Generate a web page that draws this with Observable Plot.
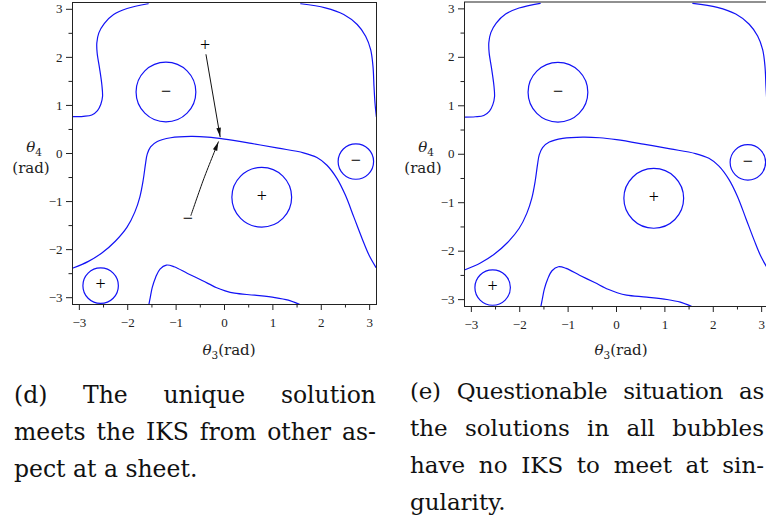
<!DOCTYPE html>
<html><head><meta charset="utf-8">
<script src="https://cdn.jsdelivr.net/npm/d3@7"></script>
<script src="https://cdn.jsdelivr.net/npm/@observablehq/plot@0.6"></script>
<style>
html,body{margin:0;padding:0;background:#fff;overflow:hidden;}
#root{position:relative;width:766px;height:523px;overflow:hidden;background:#fff;}
.panel{position:absolute;top:0;}
.lbl{position:absolute;font-family:"DejaVu Serif";font-size:15px;line-height:15px;color:#222;white-space:nowrap;text-align:center;width:80px;}
.lbl i{font-style:italic;}
.lbl sub{font-size:10.5px;vertical-align:-4px;line-height:0;}
.cap{position:absolute;font-family:"DejaVu Serif";font-size:23.5px;line-height:37px;color:#111;}
.cap div{white-space:nowrap;text-align:justify;text-align-last:justify;}
.cap div.last{text-align-last:left;}
</style></head><body><div id="root"></div>
<script>
// ---- data ----
const majorTicks = [-3, -2, -1, 0, 1, 2, 3];
const minorTicks = [-2.5, -1.5, -0.5, 0.5, 1.5, 2.5];

// singular curves (theta3, theta4)
const curveA_x = [-3.14, -2.917, -2.743, -2.625, -2.556, -2.521, -2.535, -2.583, -2.632, -2.639, -2.597, -2.486, -2.292, -2.014, -1.576];
const curveA_y = [0.767, 0.774, 0.801, 0.892, 1.024, 1.185, 1.429, 1.777, 2.091, 2.300, 2.509, 2.704, 2.892, 3.017, 3.115];
const curveB_x = [1.576, 2.083, 2.465, 2.743, 2.917, 3.021, 3.069, 3.090, 3.111, 3.139];
const curveB_y = [3.115, 3.031, 2.892, 2.683, 2.439, 2.160, 1.812, 1.394, 1.045, 0.767];
const curveC_x = [-3.13, -2.813, -2.535, -2.257, -2.014, -1.854, -1.750, -1.681, -1.632, -1.597, -1.528, -1.389, -1.111, -0.694, -0.347, 0, 0.556, 1.111, 1.632, 1.910, 2.118, 2.326, 2.500, 2.674, 2.847, 2.986, 3.13];
const curveC_y = [-2.383, -2.244, -2.070, -1.826, -1.533, -1.220, -0.906, -0.557, -0.209, -0.014, 0.139, 0.251, 0.328, 0.355, 0.341, 0.300, 0.209, 0.111, 0.014, -0.084, -0.244, -0.523, -0.871, -1.324, -1.777, -2.111, -2.369];
const curveD_x = [-1.5625, -1.535, -1.493, -1.424, -1.333, -1.201, -1.042, -0.764, -0.451, -0.174, 0.014, 0.208, 0.625, 1.042, 1.319, 1.549];
const curveD_y = [-3.14, -2.997, -2.787, -2.578, -2.404, -2.321, -2.355, -2.495, -2.648, -2.787, -2.857, -2.906, -2.948, -2.997, -3.052, -3.14];

// bubbles
const bubbleX = [-1.21, 2.715, 0.77, -2.56];
const bubbleY = [1.28, -0.167, -0.91, -2.75];
const bubbleR = [0.62, 0.368, 0.62, 0.368];
const bubbleSign = ["\u2212", "\u2212", "+", "+"];

// annotations of panel (d)
const noteX = [-0.40, -0.76];
const noteY = [2.23, -1.375];
const noteSign = ["+", "\u2212"];
const arrow1_x = [-0.382, -0.090];
const arrow1_y = [2.056, 0.348];
const arrow2_x = [-0.694, -0.427, -0.125];
const arrow2_y = [-1.289, -0.523, 0.244];

// captions
const capD = ["(d) The unique solution", "meets the IKS from other as-", "pect at a sheet."];
const capE = ["(e) Questionable situation as", "the solutions in all bubbles", "have no IKS to meet at sin-", "gularity."];

// ---- build tables ----
const toRows = (id, xs, ys) => xs.map((x, i) => ({id, x, y: ys[i]}));
const curves = [
  ...toRows("A", curveA_x, curveA_y),
  ...toRows("B", curveB_x, curveB_y),
  ...toRows("C", curveC_x, curveC_y),
  ...toRows("D", curveD_x, curveD_y)
];
const bubbles = bubbleX.map((x, i) => ({x, y: bubbleY[i], r: bubbleR[i], sign: bubbleSign[i]}));
const notes = noteX.map((x, i) => ({x, y: noteY[i], sign: noteSign[i]}));
const arrows = [...toRows(1, arrow1_x, arrow1_y), ...toRows(2, arrow2_x, arrow2_y)];

const BLUE = "#1212f5";
const fmt = d => d < 0 ? "\u2212" + (-d) : String(d);

function makePanel(withNotes, mTop, mBottom) {
  const marks = [
    Plot.line(curves, {x: "x", y: "y", z: "id", stroke: BLUE, strokeWidth: 1.2, curve: "catmull-rom", clip: true}),
    Plot.dot(bubbles, {x: "x", y: "y", r: "r", stroke: BLUE, fill: "none", strokeWidth: 1.2}),
    Plot.text(bubbles, {x: "x", y: "y", text: "sign", fontSize: 18, dy: -1, fill: "#000", fontFamily: "Liberation Serif"}),
    Plot.axisX({ticks: majorTicks, tickSize: 6, tickPadding: 7, tickFormat: fmt, label: null, stroke: "#222", fill: "#222", fontFamily: "Liberation Serif"}),
    Plot.axisX({ticks: minorTicks, tickSize: 3.5, tickFormat: () => "", label: null, stroke: "#222"}),
    Plot.axisY({ticks: majorTicks, tickSize: 6, tickPadding: 4, tickFormat: fmt, label: null, stroke: "#222", fill: "#222", fontFamily: "Liberation Serif"}),
    Plot.axisY({ticks: minorTicks, tickSize: 3.5, tickFormat: () => "", label: null, stroke: "#222"}),
    Plot.frame({stroke: "#222", strokeWidth: 1})
  ];
  if (withNotes) {
    marks.push(
      Plot.line(arrows, {x: "x", y: "y", z: "id", stroke: "#111", strokeWidth: 1, curve: "catmull-rom", markerEnd: "arrow"}),
      Plot.text(notes, {x: "x", y: "y", text: "sign", fontSize: 18, dy: -1, fill: "#000", fontFamily: "Liberation Serif"})
    );
  }
  const svg = Plot.plot({
    width: 390, height: 330,
    marginLeft: 72, marginRight: 14, marginTop: mTop, marginBottom: mBottom,
    x: {domain: [-Math.PI, Math.PI]},
    y: {domain: [-Math.PI, Math.PI]},
    r: {type: "linear", domain: [0, 1], range: [0, 48.2]},
    style: {fontFamily: "Liberation Serif", fontSize: "13px", background: "transparent", overflow: "visible"},
    marks
  });
  // filled arrow heads
  d3.select(svg).selectAll("marker")
    .attr("viewBox", "-11 -5 12 10")
    .attr("markerWidth", 12).attr("markerHeight", 10)
    .attr("fill", "#111").attr("stroke", "none")
    .select("path").attr("d", "M-9,-2.3L0,0L-9,2.3Z");
  return svg;
}

const root = document.getElementById("root");
function place(node, left, top) {
  node.classList.add("panel");
  node.style.left = left + "px";
  node.style.top = top + "px";
  root.appendChild(node);
}
place(makePanel(true, 2, 26), 0, 0);
place(makePanel(false, 1.5, 24), 392, 0);

function label(html, cx, top) {
  const d = document.createElement("div");
  d.className = "lbl";
  d.innerHTML = html;
  d.style.left = (cx - 40) + "px";
  d.style.top = top + "px";
  root.appendChild(d);
}
for (const off of [0, 392]) {
  label("<i>\u03b8</i><sub>4</sub>", 34 + off, 139.5);
  label("(rad)", 31 + off, 161);
  label("<i>\u03b8</i><sub>3</sub>(rad)", 229 + off, 343);
}

function caption(lines, left, top, width, fontSize, firstSpacing) {
  const c = document.createElement("div");
  c.className = "cap";
  c.style.left = left + "px";
  c.style.top = top + "px";
  c.style.width = width + "px";
  c.style.fontSize = fontSize + "px";
  lines.forEach((t, i) => {
    const l = document.createElement("div");
    l.textContent = t;
    if (i === 0 && firstSpacing) l.style.letterSpacing = firstSpacing + "px";
    if (i === lines.length - 1) l.className = "last";
    c.appendChild(l);
  });
  root.appendChild(c);
}
caption(capD, 14, 376.5, 362, 23.5, 0);
caption(capE, 410, 372.7, 354, 23, -0.25);
</script>
</body></html>
